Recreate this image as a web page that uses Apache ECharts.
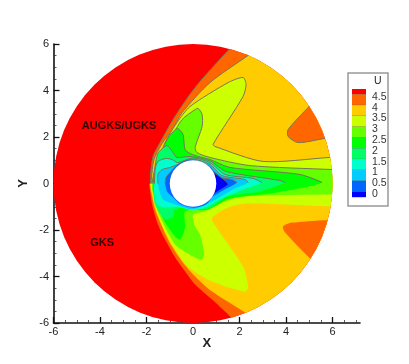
<!DOCTYPE html>
<html lang="en">
<head>
    <meta charset="UTF-8">
    <title>U contour</title>
    <script src="https://cdn.jsdelivr.net/npm/echarts@6/dist/echarts.min.js" type="text/javascript"></script>
    <style>
        html, body { margin: 0; padding: 0; background: #fff; }
    </style>
</head>
<body>
<div id="main" style="width: 409px;height:364px;"></div>
<script type="text/javascript">
    // axis ticks
    var xTicks = [-6, -4, -2, 0, 2, 4, 6];
    var yTicks = [-6, -4, -2, 0, 2, 4, 6];
    var xMinor = [-5.5, -5, -4.5, -3.5, -3, -2.5, -1.5, -1, -0.5, 0.5, 1, 1.5, 2.5, 3, 3.5, 4.5, 5, 5.5, 6.5, 7];
    var yMinor = [-5.5, -5, -4.5, -3.5, -3, -2.5, -1.5, -1, -0.5, 0.5, 1, 1.5, 2.5, 3, 3.5, 4.5, 5, 5.5];

    // legend levels, top to bottom
    var levels = ['4.5', '4', '3.5', '3', '2.5', '2', '1.5', '1', '0.5', '0'];
    var colors = ['#ff0000', '#ff6600', '#ffcc00', '#ccff00', '#66ff00', '#00ff00', '#00ff66', '#00ffcc', '#00ccff', '#0066ff', '#0000ff'];

    // domain: outer radius and the cylinder
    var outerRadius = 6;
    var bodyRadius = 1;

    // contour lines, upper half (AUGKS/UGKS) from the shock to the tip
    var u45Upper = [[-1.83, 0], [-1.83, 0.39], [-1.72, 1.16], [-1.42, 1.76], [-0.86, 2.75], [-0.26, 3.66], [0.30, 4.39], [1.59, 5.81], [1.94, 6.11]];
    var u40Upper = [[-1.81, 0], [-1.68, 1.03], [-1.33, 1.72], [-0.90, 2.30], [-0.47, 3.05], [0.73, 4.34], [2.37, 5.51], [2.71, 5.76]];
    var u35Upper = [[-1.78, 0], [-1.55, 0.82], [-1.20, 1.76], [-0.69, 2.62], [-0.13, 3.31], [1.51, 4.34], [2.15, 4.56], [2.28, 4.26], [2.15, 3.74], [0.86, 1.68], [0.95, 1.59], [3.01, 0.95], [5.85, 1.12], [6.54, 1.16]];
    var u30Upper = [[-1.76, 0], [-1.59, 0.82], [-1.29, 1.46], [-0.99, 1.89], [-0.47, 2.75], [0.09, 3.18], [0.22, 3.23], [0.39, 2.97], [0.39, 2.45], [0.09, 1.55], [0.17, 1.33], [0.73, 1.12], [2.45, 0.77], [5.98, 0.60], [6.54, 0.58]];
    var u25Upper = [[-1.72, 0], [-1.55, 0.82], [-1.33, 1.38], [-1.12, 1.89], [-0.77, 2.32], [-0.65, 2.37], [-0.43, 2.11], [-0.34, 1.46], [-0.04, 1.25], [0.73, 1.03], [1.59, 0.69], [4.60, 0.39], [5.55, 0.04]];
    var u20Upper = [[-1.68, 0], [-1.66, 0.52], [-1.51, 1.29], [-1.12, 1.63], [-0.86, 1.33], [-0.69, 1.12], [-0.13, 1.16], [0.73, 0.97], [1.42, 0.52], [3.74, 0.13], [3.96, 0.04]];
    var u15Upper = [[-1.66, 0], [-1.63, 0.60], [-1.51, 0.95], [-1.16, 1.08], [-0.90, 1.03], [-0.65, 0.90], [0, 1.10], [0.73, 0.90], [1.38, 0.39], [2.58, 0.22], [2.97, 0.04]];
    var u10Upper = [[-1.51, 0], [-1.51, 0.39], [-1.33, 0.60], [-0.99, 0.69], [-0.65, 0.82], [0, 1.05], [0.73, 0.82], [1.25, 0.34], [2.24, 0.17], [2.37, 0.04]];
    var u05Upper = [[-1.20, 0], [-1.16, 0.26], [-1.03, 0.43], [-0.69, 0.80], [-0.34, 0.99], [0, 1.03], [0.73, 0.73], [1.08, 0.30], [1.68, 0.17], [1.89, 0.04]];
    var u00Upper = [[0.82, 0.52], [1.38, 0.13], [1.51, -0.02]];

    // same contours, lower half (GKS) from the outer edge back to the shock
    var u45Lower = [[7, 6.2], [7, -6.3], [2.24, -6.28], [1.51, -5.63], [0.82, -4.99], [0.09, -4.34], [-0.34, -3.78], [-0.77, -3.18], [-1.20, -2.41], [-1.51, -1.76], [-1.76, -0.90], [-1.87, -0.13], [-1.87, 0]];
    var u40Lower = [[7, 5.8], [7, -5.9], [2.67, -5.85], [2.24, -5.55], [0.82, -4.65], [0.09, -4.00], [-0.47, -3.35], [-1.03, -2.49], [-1.33, -1.85], [-1.63, -1.12], [-1.85, -0.13], [-1.85, 0]];
    var u35Lower = [[6.54, -1.03], [5.89, -0.99], [2.32, -0.86], [1.51, -1.03], [0.82, -1.46], [0.86, -1.68], [2.15, -3.57], [2.37, -4.43], [2.24, -4.65], [0.82, -4.22], [-0.22, -3.57], [-0.90, -2.62], [-1.29, -1.89], [-1.55, -1.20], [-1.81, -0.13], [-1.81, 0]];
    var u30Lower = [[6.54, -0.52], [5.89, -0.47], [2.15, -0.56], [1.25, -0.82], [0.52, -1.20], [0, -1.33], [0.09, -1.85], [0.30, -2.19], [0.47, -2.97], [0.39, -3.27], [0.09, -3.18], [-0.77, -2.62], [-1.51, -1.20], [-1.76, -0.26]];
    var u25Lower = [[3.61, -0.39], [1.59, -0.65], [0.65, -1.12], [-0.34, -1.20], [-0.34, -1.89], [-0.56, -2.41], [-0.77, -2.28], [-1.20, -1.68], [-1.42, -1.20], [-1.72, -0.34]];
    var u20Lower = [[2.88, -0.34], [1.46, -0.56], [0.65, -1.08], [-0.34, -1.03], [-0.77, -1.12], [-0.86, -1.42], [-1.20, -1.55], [-1.63, -0.90], [-1.70, -0.26]];
    var u15Lower = [[2.15, -0.26], [1.16, -0.69], [0.65, -0.99], [0, -1.16], [-0.65, -0.99], [-1.20, -1.03], [-1.55, -0.90], [-1.68, -0.26]];
    var u10Lower = [[1.72, -0.26], [0.73, -0.82], [0, -1.10], [-0.77, -0.90], [-1.29, -0.69], [-1.46, -0.26]];
    var u05Lower = [[1.29, -0.30], [0.86, -0.56], [0.56, -0.90], [0, -1.04], [-0.56, -0.88], [-0.90, -0.56], [-1.12, -0.34]];
    var u00Lower = [[1.03, -0.34], [0.82, -0.47], [0.52, 0]];

    // the two U>4 patches by the outer edge
    var patchUpper = [[5.68, 4.04], [4.99, 3.31], [4.09, 2.32], [4.09, 2.02], [4.52, 1.76], [5.68, 1.94], [6.54, 2.06]];
    var patchUpperEnd = [[6.9, 4]];
    var patchLower = [[6.54, -1.72], [4.26, -1.68], [3.87, -1.85], [3.96, -2.11], [5.03, -3.23], [5.55, -3.78], [6.8, -3.8]];

    // paint order matters: each band covers the one before it
    var regions = [
        {upper: u45Upper, lower: u45Lower, color: colors[1]},
        {upper: u40Upper, lower: u40Lower, color: colors[2]},
        {upper: patchUpper, lower: patchUpperEnd, color: colors[1]},
        {upper: [], lower: patchLower, color: colors[1]},
        {upper: u35Upper, lower: u35Lower, color: colors[3]},
        {upper: u30Upper, lower: u30Lower, color: colors[4]},
        {upper: u25Upper, lower: u25Lower, color: colors[5]},
        {upper: u20Upper, lower: u20Lower, color: colors[6]},
        {upper: u15Upper, lower: u15Lower, color: colors[7]},
        {upper: u10Upper, lower: u10Lower, color: colors[8]},
        {upper: u05Upper, lower: u05Lower, color: colors[9]},
        {upper: u00Upper, lower: u00Lower, color: colors[10]}
    ];

    var notes = [
        {value: [-3.18, 2.49], text: 'AUGKS/UGKS'},
        {value: [-3.91, -2.54], text: 'GKS'}
    ];

    var font = '"Liberation Sans", Arial, sans-serif';

    function renderCircle(params, api) {
        var c = api.coord([api.value(0), api.value(1)]);
        var r = api.size([api.value(2), 0])[0];
        return {
            type: 'circle',
            shape: {cx: c[0], cy: c[1], r: r},
            style: {fill: api.value(3) === 0 ? colors[0] : '#ffffff'}
        };
    }

    function renderBand(params, api) {
        var band = regions[params.dataIndex];
        var c = api.coord([0, 0]);
        var r = api.size([outerRadius, 0])[0];
        var line = band.upper.map(function (p) { return api.coord(p); });
        var rest = band.lower.map(function (p) { return api.coord(p); });
        return {
            type: 'group',
            clipPath: {type: 'circle', shape: {cx: c[0], cy: c[1], r: r}},
            children: [
                {type: 'polygon', shape: {points: line.concat(rest), smooth: 0.25}, style: {fill: band.color}},
                {type: 'polyline', shape: {points: line, smooth: 0.25}, style: {fill: null, stroke: '#777755', lineWidth: 1}}
            ]
        };
    }

    function legendGraphics() {
        var left = 352, width = 14, top = 89, half = 5.5, step = 10.8;
        var items = [{
            type: 'rect',
            shape: {x: 348, y: 73, width: 40, height: 133},
            style: {fill: '#fff', stroke: '#999', lineWidth: 1.5}
        }, {
            type: 'text', x: 374, y: 76,
            style: {text: 'U', font: '10.5px ' + font, fill: '#222'}
        }];
        var y = top;
        colors.forEach(function (col, i) {
            var h = (i === 0 || i === colors.length - 1) ? half : step;
            items.push({
                type: 'rect',
                shape: {x: left, y: y, width: width, height: h},
                style: {fill: col}
            });
            y += h;
            if (i < levels.length) {
                items.push({
                    type: 'line',
                    shape: {x1: left, y1: y, x2: left + width, y2: y},
                    style: {stroke: '#555', lineWidth: 0.6}
                });
                items.push({
                    type: 'text', x: 372, y: y - 3,
                    style: {text: levels[i], font: '10.5px ' + font, fill: '#333'}
                });
            }
        });
        return items;
    }

    var myChart = echarts.init(document.getElementById('main'), null, {renderer: 'canvas'});
    myChart.setOption({
        animation: false,
        grid: {left: 53.5, right: 49, top: 44, bottom: 41},
        xAxis: [{
            type: 'value', min: -6, max: 7.18, interval: 2, position: 'bottom',
            name: 'X', nameLocation: 'middle', nameGap: 14, nameMoveOverlap: false,
            nameTextStyle: {fontFamily: font, fontWeight: 'bold', fontSize: 13, color: '#222'},
            splitLine: {show: false},
            axisLine: {onZero: false, lineStyle: {color: '#111', width: 1.6}},
            axisTick: {inside: true, length: 6, lineStyle: {color: '#111', width: 1.3}, customValues: xTicks},
            axisLabel: {fontFamily: font, fontSize: 11, color: '#222', margin: 3, customValues: xTicks}
        }, {
            type: 'value', min: -6, max: 7.18, position: 'bottom',
            splitLine: {show: false},
            axisLine: {show: false, onZero: false},
            axisTick: {inside: true, length: 3, lineStyle: {color: '#333', width: 0.8}, customValues: xMinor},
            axisLabel: {show: false}
        }],
        yAxis: [{
            type: 'value', min: -6, max: 6, interval: 2, position: 'left',
            name: 'Y', nameLocation: 'middle', nameGap: 24, nameRotate: 90, nameMoveOverlap: false,
            nameTextStyle: {fontFamily: font, fontWeight: 'bold', fontSize: 13, color: '#222'},
            splitLine: {show: false},
            axisLine: {onZero: false, lineStyle: {color: '#111', width: 1.6}},
            axisTick: {inside: true, length: 6, lineStyle: {color: '#111', width: 1.3}, customValues: yTicks},
            axisLabel: {fontFamily: font, fontSize: 11, color: '#222', margin: 4.5, customValues: yTicks}
        }, {
            type: 'value', min: -6, max: 6, position: 'left',
            splitLine: {show: false},
            axisLine: {show: false, onZero: false},
            axisTick: {inside: true, length: 3, lineStyle: {color: '#333', width: 0.8}, customValues: yMinor},
            axisLabel: {show: false}
        }],
        graphic: legendGraphics(),
        series: [{
            type: 'custom', name: 'disc', silent: true, z: 1,
            renderItem: renderCircle,
            data: [[0, 0, outerRadius, 0]]
        }, {
            type: 'custom', name: 'bands', silent: true, z: 2, clip: false,
            renderItem: renderBand,
            data: regions.map(function (r, i) { return [i]; }),
            encode: {x: [], y: []}
        }, {
            type: 'custom', name: 'cylinder', silent: true, z: 3,
            renderItem: renderCircle,
            data: [[0, 0, bodyRadius, 1]]
        }, {
            type: 'scatter', name: 'notes', silent: true, z: 4, symbolSize: 0,
            data: notes,
            label: {
                show: true, position: 'inside', fontFamily: font, fontWeight: 'bold',
                fontSize: 11, color: '#000',
                formatter: function (p) { return p.data.text; }
            }
        }]
    });
</script>
</body>
</html>
